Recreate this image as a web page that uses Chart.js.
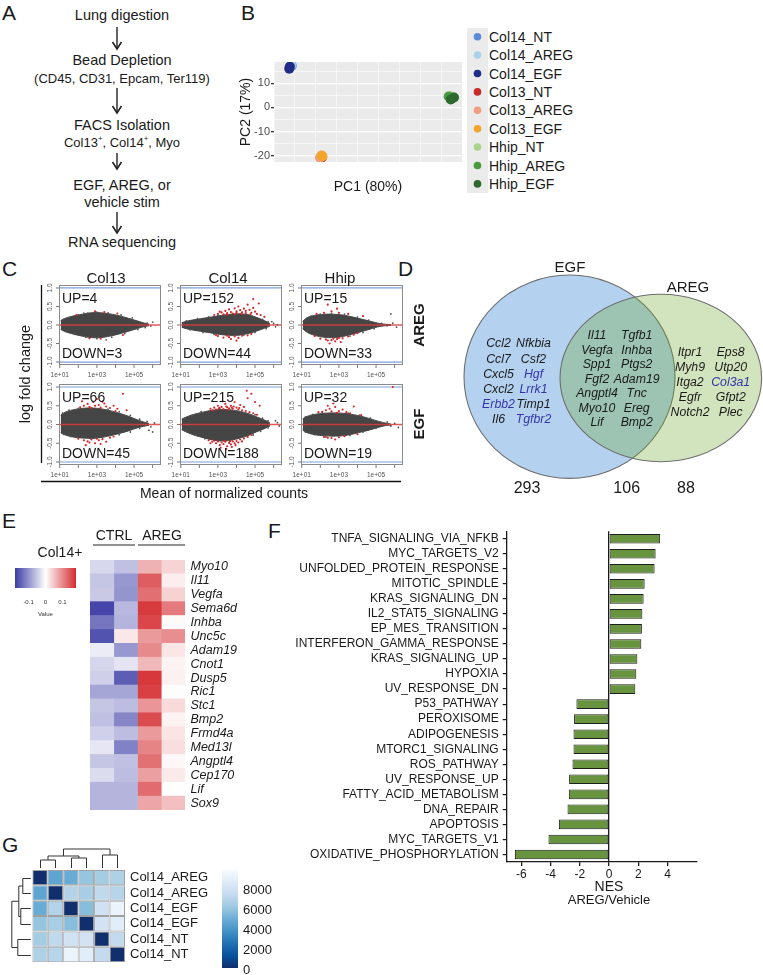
<!DOCTYPE html>
<html><head><meta charset="utf-8">
<script src="https://cdn.jsdelivr.net/npm/chart.js@4.4.1/dist/chart.umd.min.js"></script>
<style>
html,body{margin:0;padding:0;background:#fff}
body{width:763px;height:975px;position:relative;overflow:hidden;font-family:"Liberation Sans",Arial,Helvetica,sans-serif;color:#1a1a1a}
.t{position:absolute;white-space:nowrap;line-height:1}
.t sup{font-size:0.6em;position:relative;top:-0.1em;vertical-align:top}
canvas{position:absolute}
svg{position:absolute;left:0;top:0}
</style></head><body>
<script>
// ================= DATA =================
// Panel A
const flowSteps = [
  ['Lung digestion'],
  ['Bead Depletion', '(CD45, CD31, Epcam, Ter119)'],
  ['FACS Isolation', 'Col13<sup>+</sup>, Col14<sup>+</sup>, Myo'],
  ['EGF, AREG, or', 'vehicle stim'],
  ['RNA sequencing']
];
// Panel B (PCA)
const pcaGroups = ['Col14_NT','Col14_AREG','Col14_EGF','Col13_NT','Col13_AREG','Col13_EGF','Hhip_NT','Hhip_AREG','Hhip_EGF'];
const pcaPC1 = [[-29.5,-30.2],[-29.8,-30.6],[-30.7,-30.4],[-15.0,-15.6],[-16.0,-15.3],[-15.2,-14.8],[46.5,47.5],[45.6,47.0],[48.2,46.6]];
const pcaPC2 = [[17.2,16.8],[17.4,16.5],[16.0,16.9],[-20.6,-21.0],[-20.8,-20.3],[-19.9,-20.2],[4.6,4.2],[4.5,3.6],[4.1,3.3]];
const pcaMajor = [-20,0,20,40];
// Panel C (MA plots)
const maConditions = ['AREG','EGF'];
const maCellTypes = ['Col13','Col14','Hhip'];
const maUpCounts = [[4,152,15],[66,215,32]];
const maDownCounts = [[3,44,33],[45,188,19]];
const maX = [1.05,1.3,1.7,2.2,2.7,3.2,3.7,4.2,4.7,5.1,5.5,5.8];
const maUpperAREG = [
  [0.12,0.18,0.24,0.29,0.33,0.33,0.30,0.25,0.18,0.12,0.06,0.02],
  [0.06,0.10,0.14,0.18,0.22,0.26,0.29,0.30,0.27,0.20,0.12,0.04],
  [0.10,0.20,0.26,0.29,0.29,0.27,0.22,0.16,0.10,0.05,0.02,0.01]];
const maLowerAREG = [
  [-0.12,-0.18,-0.24,-0.30,-0.34,-0.34,-0.30,-0.24,-0.17,-0.11,-0.05,-0.02],
  [-0.06,-0.10,-0.14,-0.18,-0.22,-0.26,-0.28,-0.27,-0.22,-0.16,-0.09,-0.03],
  [-0.10,-0.20,-0.28,-0.33,-0.34,-0.31,-0.25,-0.18,-0.11,-0.05,-0.02,-0.01]];
const maUpperEGF = [
  [0.25,0.33,0.39,0.43,0.44,0.42,0.37,0.30,0.22,0.14,0.07,0.03],
  [0.14,0.20,0.27,0.33,0.38,0.40,0.39,0.35,0.28,0.20,0.12,0.05],
  [0.15,0.22,0.27,0.30,0.31,0.30,0.27,0.22,0.15,0.09,0.04,0.01]];
const maLowerEGF = [
  [-0.22,-0.28,-0.33,-0.36,-0.37,-0.35,-0.30,-0.24,-0.17,-0.10,-0.05,-0.02],
  [-0.14,-0.20,-0.28,-0.35,-0.41,-0.44,-0.42,-0.36,-0.28,-0.19,-0.11,-0.04],
  [-0.15,-0.22,-0.27,-0.30,-0.31,-0.30,-0.26,-0.20,-0.14,-0.08,-0.03,-0.01]];
const maRedAREG = [
  [[1.9,0.27],[2.9,0.37],[3.4,0.35],[4.1,0.31],[2.6,-0.36],[3.2,-0.37],[4.4,-0.27]],
  [[3.0,0.3],[3.2,0.34],[3.3,0.29],[3.4,0.38],[3.5,0.32],[3.6,0.42],[3.7,0.35],[3.8,0.31],[3.9,0.45],[4.0,0.37],[4.0,0.33],[4.1,0.5],[4.2,0.4],[4.3,0.34],[4.4,0.44],[4.5,0.38],[4.5,0.32],[4.6,0.55],[4.7,0.41],[4.8,0.33],[4.9,0.46],[5.0,0.36],[5.1,0.3],[5.2,0.58],[5.3,0.27],[5.5,0.22],[3.1,0.36],[3.5,0.27],[4.25,0.3],[4.75,0.29],[2.8,0.27],[3.95,0.29],[4.9,0.7],
   [3.0,-0.3],[3.3,-0.34],[3.5,-0.29],[3.7,-0.38],[3.9,-0.31],[4.1,-0.35],[4.3,-0.29],[4.6,-0.28],[3.6,-0.33],[4.0,-0.42],[4.8,-0.24],[2.9,-0.27]],
  [[1.8,0.3],[2.2,0.33],[2.6,0.37],[2.9,0.44],[3.0,0.33],[3.5,0.3],[4.3,0.24],[2.4,0.55],
   [1.7,-0.3],[2.0,-0.37],[2.3,-0.39],[2.4,-0.42],[2.6,-0.41],[2.8,-0.44],[2.9,-0.38],[3.0,-0.35],[3.2,-0.36],[3.5,-0.31],[3.8,-0.26],[4.0,-0.22],[2.5,-0.5],[2.7,-0.37],[3.1,-0.46]]];
const maRedEGF = [
  [[2.1,0.46],[2.3,0.5],[2.5,0.55],[2.6,0.47],[2.8,0.6],[2.9,0.5],[3.1,0.52],[3.2,0.45],[3.4,0.56],[3.5,0.48],[3.7,0.44],[3.9,0.5],[4.1,0.42],[2.2,0.62],[3.0,0.68],[4.4,0.82],[4.6,0.38],[2.7,0.44],[3.3,0.61],[4.0,0.36],
   [2.0,-0.38],[2.3,-0.42],[2.5,-0.45],[2.7,-0.4],[2.9,-0.5],[3.1,-0.42],[3.3,-0.39],[3.5,-0.46],[3.7,-0.35],[2.4,-0.55],[3.0,-0.38],[3.9,-0.32],[2.6,-0.48],[3.2,-0.52]],
  [[2.6,0.42],[2.8,0.45],[2.9,0.4],[3.0,0.5],[3.1,0.44],[3.2,0.47],[3.3,0.41],[3.4,0.55],[3.5,0.46],[3.6,0.43],[3.7,0.5],[3.8,0.42],[3.9,0.6],[4.0,0.45],[4.1,0.4],[4.2,0.52],[4.3,0.38],[4.4,0.47],[4.5,0.36],[4.6,0.7],[4.7,0.33],[4.8,0.82],[4.9,0.3],[5.0,0.6],[5.1,0.26],[3.25,0.62],[3.55,0.39],[3.85,0.48],[4.15,0.44],[2.7,0.38],[4.55,0.9],[5.25,0.5],[3.05,0.43],[3.45,0.48],[3.75,0.45],
   [2.5,-0.42],[2.7,-0.46],[2.9,-0.5],[3.0,-0.45],[3.1,-0.55],[3.2,-0.48],[3.3,-0.52],[3.4,-0.46],[3.5,-0.58],[3.6,-0.49],[3.7,-0.53],[3.8,-0.45],[3.9,-0.5],[4.0,-0.44],[4.1,-0.48],[4.2,-0.4],[4.3,-0.45],[4.4,-0.37],[4.6,-0.33],[4.8,-0.28],[3.15,-0.62],[3.45,-0.65],[3.75,-0.6],[2.8,-0.43],[3.35,-0.44],[3.65,-0.45],[3.95,-0.55],[2.6,-0.5]],
  [[2.1,0.34],[2.3,0.38],[2.5,0.42],[2.6,0.35],[2.8,0.47],[3.0,0.36],[3.2,0.4],[2.4,0.5],[3.4,0.33],[2.7,0.56],[1.9,0.33],[3.6,0.3],[2.9,0.31],[4.2,0.25],[3.8,0.48],[5.9,1.0],
   [2.2,-0.33],[2.6,-0.36],[3.0,-0.34],[2.8,-0.4],[3.3,-0.31],[2.4,-0.35],[4.0,-0.26]]];
const maGreyAREG = [
  [[5.7,0.05],[5.9,-0.03],[6.0,0.08],[5.6,-0.07],[3.5,-0.4],[2.3,0.32],[1.2,0.15],[1.5,0.2],[2.0,0.27],[2.5,0.32],[3.0,0.35],[3.6,0.33],[4.3,0.27],[4.9,0.19],[1.3,-0.17],[1.8,-0.25],[2.4,-0.33],[3.0,-0.37],[3.8,-0.33],[4.5,-0.23],[5.2,-0.12]],
  [[6.0,0.04],[6.1,-0.05],[5.9,0.09],[6.2,0.01],[1.3,0.11],[1.9,0.17],[2.5,0.22],[3.0,0.26],[3.5,0.3],[5.4,0.15],[5.7,0.09],[1.5,-0.13],[2.2,-0.2],[2.8,-0.25],[4.4,-0.27],[5.0,-0.2],[5.6,-0.1]],
  [[5.3,0.04],[5.6,-0.02],[5.9,0.05],[6.1,-0.06],[5.8,0.3],[1.2,0.14],[1.5,0.24],[2.0,0.29],[2.6,0.31],[3.3,0.29],[4.0,0.21],[4.6,0.13],[1.3,-0.16],[1.7,-0.27],[3.6,-0.3],[4.3,-0.2],[4.9,-0.1]]];
const maGreyEGF = [
  [[5.7,0.08],[5.9,-0.06],[6.1,0.04],[6.0,-0.2],[5.8,-0.15],[1.15,0.3],[1.5,0.38],[2.0,0.43],[3.6,0.41],[4.2,0.34],[4.8,0.24],[5.3,0.14],[1.2,-0.26],[1.6,-0.32],[4.2,-0.27],[4.8,-0.2],[5.3,-0.1]],
  [[6.2,0.05],[6.3,-0.04],[6.1,0.1],[1.2,0.17],[1.6,0.24],[2.1,0.34],[5.0,0.26],[5.4,0.17],[5.7,0.1],[1.3,-0.18],[1.8,-0.26],[2.3,-0.38],[4.9,-0.28],[5.3,-0.18],[5.7,-0.09]],
  [[5.6,0.07],[5.8,-0.04],[6.0,0.03],[6.2,-0.08],[1.2,0.2],[1.6,0.27],[2.1,0.32],[3.5,0.3],[4.1,0.25],[4.7,0.17],[1.2,-0.2],[1.7,-0.27],[2.3,-0.33],[3.6,-0.29],[4.3,-0.2],[5.0,-0.1]]];
const maXLabels = [1,3,5];
const maXTickMarks = [1,2,3,4,5,6];
const maYTicks = [-1,-0.5,0,0.5,1];
// Panel D (Venn)
const egfOnlyGenes = [['Ccl2','Nfkbia'],['Ccl7','Csf2'],['Cxcl5','Hgf'],['Cxcl2','Lrrk1'],['Erbb2','Timp1'],['Il6','Tgfbr2']];
const sharedGenes = [['Il11','Tgfb1'],['Vegfa','Inhba'],['Spp1','Ptgs2'],['Fgf2','Adam19'],['Angptl4','Tnc'],['Myo10','Ereg'],['Lif','Bmp2']];
const aregOnlyGenes = [['Itpr1','Eps8'],['Myh9','Utp20'],['Itga2','Col3a1'],['Egfr','Gfpt2'],['Notch2','Plec']];
const highlightedGenes = ['Hgf','Lrrk1','Erbb2','Tgfbr2','Col3a1'];
const vennSetNames = ['EGF','AREG'];
const vennCounts = [293,106,88];
// Panel E (heatmap)
const heatGenes = ['Myo10','Il11','Vegfa','Sema6d','Inhba','Unc5c','Adam19','Cnot1','Dusp5','Ric1','Stc1','Bmp2','Frmd4a','Med13l','Angptl4','Cep170','Lif','Sox9'];
const heatGroups = ['CTRL','AREG'];
const heatValues = [
  [-0.037,-0.058,0.065,0.037],
  [-0.054,-0.095,0.137,0.014],
  [-0.050,-0.098,0.122,0.038],
  [-0.171,-0.065,0.166,0.112],
  [-0.127,-0.069,0.156,0.004],
  [-0.160,0.020,0.085,0.096],
  [-0.018,-0.095,0.099,0.021],
  [-0.039,-0.025,0.060,0.010],
  [-0.044,-0.150,0.168,0.012],
  [-0.083,-0.083,0.161,-0.002],
  [-0.054,-0.061,0.089,0.031],
  [-0.058,-0.112,0.151,0.010],
  [-0.043,-0.061,0.085,0.023],
  [-0.023,-0.116,0.105,0.028],
  [-0.054,-0.058,0.120,0.007],
  [-0.032,-0.061,0.081,0.018],
  [-0.069,-0.069,0.125,-0.001],
  [-0.069,-0.069,0.076,0.053]];
const heatKeyTicks = [-0.1,0,0.1];
// Panel F (GSEA)
const gseaSets = ['TNFA_SIGNALING_VIA_NFKB','MYC_TARGETS_V2','UNFOLDED_PROTEIN_RESPONSE','MITOTIC_SPINDLE','KRAS_SIGNALING_DN','IL2_STAT5_SIGNALING','EP_MES_TRANSITION','INTERFERON_GAMMA_RESPONSE','KRAS_SIGNALING_UP','HYPOXIA','UV_RESPONSE_DN','P53_PATHWAY','PEROXISOME','ADIPOGENESIS','MTORC1_SIGNALING','ROS_PATHWAY','UV_RESPONSE_UP','FATTY_ACID_METABOLISM','DNA_REPAIR','APOPTOSIS','MYC_TARGETS_V1','OXIDATIVE_PHOSPHORYLATION'];
const gseaNES = [3.50,3.19,3.12,2.44,2.37,2.28,2.25,2.21,1.94,1.87,1.80,-2.23,-2.39,-2.43,-2.43,-2.50,-2.73,-2.75,-2.84,-3.43,-4.14,-6.44];
const nesTicks = [-6,-4,-2,0,2,4];
// Panel G (sample distance heatmap)
const simSamples = ['Col14_AREG','Col14_AREG','Col14_EGF','Col14_EGF','Col14_NT','Col14_NT'];
const simMatrix = [
  [0,4500,4800,5900,6300,6600],
  [4500,0,6800,6400,7200,6900],
  [4800,6800,0,5600,7800,9200],
  [5900,6400,5600,0,8000,8700],
  [6300,7200,7800,8000,0,7300],
  [6600,6900,9200,8700,7300,0]];
const simKeyTicks = [0,2000,4000,6000,8000];
const dendroMerge = [[-1,-2],[-3,-4],[1,2],[-5,-6],[3,4]];
const dendroHeight = [8,10,12,13,19];

// ================= STYLE / LAYOUT =================
const FONT = '"Liberation Sans", Arial, Helvetica, sans-serif';
Chart.defaults.font.family = FONT;
Chart.defaults.color = '#1a1a1a';
Chart.defaults.animation = false;
Chart.defaults.responsive = false;
Chart.defaults.plugins.legend.display = false;
Chart.defaults.plugins.tooltip.enabled = false;

const pcaColors = ['#5b8bd6','#a9d3ea','#1f2d86','#c72a27','#ee9f80','#f1a52c','#a8d48d','#4c9a40','#2d6a2d'];

function T(html, x, y, o) {
  o = o || {};
  const d = document.createElement('div');
  d.className = 't';
  d.innerHTML = html;
  d.style.left = x + 'px'; d.style.top = y + 'px';
  d.style.fontSize = (o.size || 13) + 'px';
  if (o.color) d.style.color = o.color;
  if (o.italic) d.style.fontStyle = 'italic';
  if (o.bold) d.style.fontWeight = 'bold';
  const ax = o.a === 'l' ? '0' : o.a === 'r' ? '-100%' : '-50%';
  d.style.transform = 'translate(' + ax + ',-50%)' + (o.rot ? ' rotate(' + o.rot + 'deg)' : '');
  document.body.appendChild(d);
  return d;
}
function mkCanvas(x, y, w, h) {
  const c = document.createElement('canvas');
  c.width = w; c.height = h;
  c.style.left = x + 'px'; c.style.top = y + 'px';
  c.style.width = w + 'px'; c.style.height = h + 'px';
  document.body.appendChild(c);
  return c;
}
function hex(h){return [parseInt(h.substr(1,2),16),parseInt(h.substr(3,2),16),parseInt(h.substr(5,2),16)];}
function mix(a,b,f){return 'rgb('+a.map((v,i)=>Math.round(v+(b[i]-v)*f)).join(',')+')';}

// ---------- SVG decorations ----------
const NS = 'http://www.w3.org/2000/svg';
const svg = document.createElementNS(NS,'svg');
svg.setAttribute('width',763); svg.setAttribute('height',975);
document.body.appendChild(svg);
function S(tag, attrs){const e=document.createElementNS(NS,tag);for(const k in attrs)e.setAttribute(k,attrs[k]);svg.appendChild(e);return e;}

// ---------- Panel letters ----------
[['A',2,12],['B',241,12],['C',2,268],['D',398,268],['E',2,520],['F',268,530],['G',2,844]].forEach(p=>T(p[0],p[1],p[2],{size:21,a:'l'}));

// ---------- Panel A ----------
const flowY = [[15],[60,77.7],[125,141.7],[185,201.7],[241.7]];
const flowSize = [[14.5],[14.5,13],[14.5,13],[14.5,14.5],[14.5]];
flowSteps.forEach((s,i)=>s.forEach((line,k)=>T(line,122,flowY[i][k],{size:flowSize[i][k]})));
[[27,49],[88,113],[153,169],[212,233]].forEach(a=>{
  S('line',{x1:117,y1:a[0],x2:117,y2:a[1],stroke:'#222','stroke-width':1.4});
  S('polyline',{points:(112.5)+','+(a[1]-7)+' 117,'+a[1]+' '+(121.5)+','+(a[1]-7),fill:'none',stroke:'#222','stroke-width':1.6});
});

// ---------- Panel B ----------
const pcaBg = {id:'pcaBg', beforeDraw(chart){const a=chart.chartArea,c=chart.ctx;c.save();c.fillStyle='#ebebeb';c.fillRect(a.left,a.top,a.right-a.left,a.bottom-a.top);c.restore();}};
new Chart(mkCanvas(238,50,229,150), {
  type:'scatter',
  data:{datasets: pcaGroups.map((g,i)=>({label:g, data:pcaPC1[i].map((x,k)=>({x:x,y:pcaPC2[i][k]})), backgroundColor:pcaColors[i], borderWidth:0, pointRadius:5, order:pcaGroups.length-i}))},
  options:{devicePixelRatio:1, layout:{padding:{top:12,right:4,left:0,bottom:0}},
    scales:{
      x:{min:-38,max:52, afterFit:s=>{s.height=38;},
        ticks:{stepSize:10,includeBounds:false,autoSkip:false,maxRotation:0,color:'#4d4d4d',font:{size:11},padding:1,callback:v=>pcaMajor.includes(v)?String(v):''},
        grid:{color:'#ffffff',lineWidth:c=>(c.tick&&c.tick.value%20===0)?1.3:0.55,tickColor:c=>(c.tick&&c.tick.value%20===0)?'#333':'rgba(0,0,0,0)',tickLength:3},
        border:{display:false},
        title:{display:true,text:'PC1 (80%)',font:{size:14},color:'#1a1a1a',padding:{top:1}}},
      y:{min:-22.6,max:18.8, afterFit:s=>{s.width=36;},
        ticks:{stepSize:5,includeBounds:false,autoSkip:false,color:'#4d4d4d',font:{size:11},padding:1,callback:v=>(v%10===0)?String(v):''},
        grid:{color:'#ffffff',lineWidth:c=>(c.tick&&c.tick.value%10===0)?1.3:0.55,tickColor:c=>(c.tick&&c.tick.value%10===0)?'#333':'rgba(0,0,0,0)',tickLength:3},
        border:{display:false},
        title:{display:true,text:'PC2 (17%)',font:{size:14},color:'#1a1a1a',padding:{top:0,bottom:2}}}
    }},
  plugins:[pcaBg]
});
const lgTop = 27.5, lgStep = 18.4;
const strip = document.createElement('div');
Object.assign(strip.style,{position:'absolute',left:'467px',top:lgTop+'px',width:'21px',height:(lgStep*pcaGroups.length)+'px',background:'#ebebeb'});
document.body.appendChild(strip);
pcaGroups.forEach((g,i)=>{
  const y = lgTop + lgStep*(i+0.5);
  S('circle',{cx:477.5,cy:y,r:3.8,fill:pcaColors[i]});
  T(g,489,y,{size:14,a:'l'});
});
svg.parentNode.appendChild(svg);

// ---------- Panel C ----------
const maBoxX = [[59,162],[180,283],[301,404]];
const maBoxY = [[284,365],[383,465]];
const maAxes = {id:'maAxes', afterDraw(chart){
  const c=chart.ctx,a=chart.chartArea,x=chart.scales.x,y=chart.scales.y;
  c.save();
  c.strokeStyle='#8a8a8a';c.lineWidth=1;
  c.strokeRect(a.left+0.5,a.top+0.5,a.right-a.left-1,a.bottom-a.top-1);
  c.strokeStyle='#777';c.fillStyle='#555';c.font='6.5px '+FONT;c.textAlign='center';c.textBaseline='middle';
  maYTicks.forEach(v=>{const py=y.getPixelForValue(v);c.beginPath();c.moveTo(a.left-3,py);c.lineTo(a.left,py);c.stroke();
    c.save();c.translate(a.left-9,py);c.rotate(-Math.PI/2);c.fillText(v.toFixed(1),0,0);c.restore();});
  maXTickMarks.forEach(v=>{const px=x.getPixelForValue(v);c.beginPath();c.moveTo(px,a.bottom);c.lineTo(px,a.bottom+3);c.stroke();});
  maXLabels.forEach(v=>c.fillText('1e+0'+v,x.getPixelForValue(v),a.bottom+10));
  c.restore();
}};
function pts(arr){return arr.map(p=>({x:p[0],y:p[1]}));}
maConditions.forEach((cond,r)=>{
  maCellTypes.forEach((cell,ci)=>{
    const L=maBoxX[ci][0],R=maBoxX[ci][1],Tp=maBoxY[r][0],B=maBoxY[r][1];
    const up=(r===0?maUpperAREG:maUpperEGF)[ci], lo=(r===0?maLowerAREG:maLowerEGF)[ci];
    const red=(r===0?maRedAREG:maRedEGF)[ci], grey=(r===0?maGreyAREG:maGreyEGF)[ci];
    const xmin=0.96,xmax=6.45;
    new Chart(mkCanvas(L-24,Tp-3,R-L+27,B-Tp+20),{
      type:'scatter',
      data:{datasets:[
        {data:pts(red),backgroundColor:'#d62628',borderWidth:0,pointRadius:1.1,order:0},
        {data:pts(grey),backgroundColor:'#555555',borderWidth:0,pointRadius:0.9,order:1},
        {type:'line',data:[{x:xmin,y:0},{x:xmax,y:0}],borderColor:'rgba(222,60,60,0.85)',borderWidth:1.3,pointRadius:0,order:2},
        {type:'line',data:[{x:xmin,y:1},{x:xmax,y:1}],borderColor:'#7ba2dc',borderWidth:1.2,pointRadius:0,order:2},
        {type:'line',data:[{x:xmin,y:-1},{x:xmax,y:-1}],borderColor:'#7ba2dc',borderWidth:1.2,pointRadius:0,order:2},
        {type:'line',data:maX.map((v,i)=>({x:v,y:up[i]})),borderColor:'#454545',backgroundColor:'#454545',borderWidth:1,pointRadius:0,tension:0.4,fill:'+1',order:3},
        {type:'line',data:maX.map((v,i)=>({x:v,y:lo[i]})),borderColor:'#454545',borderWidth:1,pointRadius:0,tension:0.4,fill:false,order:4}
      ]},
      options:{devicePixelRatio:1,layout:{padding:{left:24,top:3,right:3,bottom:17}},
        scales:{x:{type:'linear',display:false,min:xmin,max:xmax},y:{type:'linear',display:false,min:-1.08,max:1.08}}},
      plugins:[maAxes]
    });
    T('UP='+maUpCounts[r][ci],L+3,Tp+13.5,{size:14,a:'l'});
    T('DOWN='+maDownCounts[r][ci],L+3,B-12,{size:14,a:'l'});
  });
  T(cond,417.5,(maBoxY[r][0]+maBoxY[r][1])/2,{size:15,bold:true,rot:-90});
});
[106,228,340].forEach((x,i)=>T(maCellTypes[i],x,277,{size:15}));
S('line',{x1:41.5,y1:285,x2:41.5,y2:463,stroke:'#111','stroke-width':1.3});
S('line',{x1:41,y1:481.5,x2:401,y2:481.5,stroke:'#111','stroke-width':1.3});
T('log fold change',25,374,{size:14.5,rot:-90});
T('Mean of normalized counts',224,493,{size:14});

// ---------- Panel D (Venn) ----------
S('ellipse',{cx:569.5,cy:376.7,rx:105.5,ry:101.7,fill:'#b4d2f0',stroke:'#6e6e6e','stroke-width':1.1});
S('ellipse',{cx:660.8,cy:378,rx:100.8,ry:83.7,fill:'rgba(105,165,35,0.3)',stroke:'#6e6e6e','stroke-width':1.1});
T(vennSetNames[0],570,266,{size:15});
T(vennSetNames[1],688,286,{size:15});
function geneBlock(list,cx1,cx2,y0,dy){
  list.forEach((row,i)=>row.forEach((g,k)=>T(g,k===0?cx1:cx2,y0+dy*i,{size:12.3,italic:true,color:highlightedGenes.includes(g)?'#3434a8':'#1a1a1a'})));
}
geneBlock(egfOnlyGenes,498.5,533.5,343.3,15.2);
geneBlock(sharedGenes,597,636.7,335,14.55);
geneBlock(aregOnlyGenes,690,730.7,351.7,15.15);
[527,626.7,686].forEach((x,i)=>T(String(vennCounts[i]),x,488,{size:16}));

// ---------- Panel E (heatmap) ----------
const blueEnd=[60,60,165], redEnd=[212,42,46], white=[255,255,255];
const heatLim = 0.18;
function divColor(v){const t=Math.max(-1,Math.min(1,v/heatLim));return t<0?mix(white,blueEnd,-t):mix(white,redEnd,t);}
new Chart(mkCanvas(90,547,160,276),{
  type:'bar',
  data:{labels:heatGenes,datasets:[0,1,2,3].map(j=>({data:heatGenes.map(()=>[j,j+1]),backgroundColor:heatValues.map(r=>divColor(r[j])),grouped:false,barPercentage:1,categoryPercentage:1,borderWidth:0}))},
  options:{devicePixelRatio:1,indexAxis:'y',layout:{padding:0},
    scales:{x:{display:false,min:0,max:4},
      y:{position:'right',afterFit:s=>{s.width=65;},grid:{display:false,drawTicks:false},border:{display:false},
        ticks:{autoSkip:false,padding:5.5,color:'#1a1a1a',font:{size:12.5,style:'italic'}}}}}
});
T(heatGroups[0],114,535,{size:14});
T(heatGroups[1],162,535,{size:14});
S('line',{x1:93,y1:545,x2:135,y2:545,stroke:'#222','stroke-width':1});
S('line',{x1:138,y1:545,x2:185,y2:545,stroke:'#222','stroke-width':1});
T('Col14+',60,552,{size:14});
const keyE = document.createElement('div');
Object.assign(keyE.style,{position:'absolute',left:'15px',top:'568px',width:'61px',height:'20px',background:'linear-gradient(to right, rgb(60,60,165), #ffffff, rgb(212,42,46))'});
document.body.appendChild(keyE);
heatKeyTicks.forEach(v=>T(String(v),45.5+v/heatLim*30.5,602,{size:6,color:'#333'}));
T('Value',45.5,614,{size:6,color:'#333'});

// ---------- Panel F (GSEA bars) ----------
new Chart(mkCanvas(250,520,513,360),{
  type:'bar',
  data:{labels:gseaSets,datasets:[{data:gseaNES,backgroundColor:'#68943f',borderColor:'#1e1e1e',borderWidth:1,borderSkipped:false,barPercentage:0.64,categoryPercentage:1}]},
  options:{devicePixelRatio:1,indexAxis:'y',layout:{padding:{top:11,right:66.3,left:0,bottom:0}},
    scales:{
      x:{min:-7,max:6,afterFit:s=>{s.height=18;},afterBuildTicks:s=>{s.ticks=nesTicks.map(v=>({value:v}));},
        ticks:{color:'#1a1a1a',font:{size:12},padding:1,maxRotation:0,autoSkip:false},
        grid:{drawOnChartArea:true,color:c=>(c.tick&&c.tick.value===0)?'#1a1a1a':'rgba(0,0,0,0)',tickColor:'#1a1a1a',tickLength:4,lineWidth:1.3},
        border:{display:true,color:'#1a1a1a',width:1.3}},
      y:{afterFit:s=>{s.width=256.7;},
        ticks:{color:'#1a1a1a',font:{size:12},padding:4,autoSkip:false},
        grid:{drawOnChartArea:false,offset:false,tickLength:4,color:'#1a1a1a',tickColor:'#1a1a1a',lineWidth:1.2},
        border:{display:true,color:'#1a1a1a',width:1.3}}
    }}
});
T('NES',609,886,{size:14});
T('AREG/Vehicle',609,899,{size:13});

// ---------- Panel G ----------
const bluesPal = ['#102f6c','#08519C','#2171B5','#4292C6','#6BAED6','#9ECAE1','#C6DBEF','#DEEBF7','#F7FBFF'];
const simScaleMax = 9800;
function bluesColor(v){const t=Math.max(0,Math.min(1,v/simScaleMax))*8;const i=Math.min(7,Math.floor(t));return mix(hex(bluesPal[i]),hex(bluesPal[i+1]),t-i);}
function drawTree(c,leafPos,mapH,vertical){
  const pos=[];
  dendroMerge.forEach((m,k)=>{
    const h=dendroHeight[k];
    const ch=m.map(q=>q<0?{p:leafPos(-q-1),h:0}:{p:pos[q-1],h:dendroHeight[q-1]});
    pos[k]=(ch[0].p+ch[1].p)/2;
    c.beginPath();
    if(vertical){c.moveTo(ch[0].p,mapH(ch[0].h));c.lineTo(ch[0].p,mapH(h));c.lineTo(ch[1].p,mapH(h));c.lineTo(ch[1].p,mapH(ch[1].h));}
    else{c.moveTo(mapH(ch[0].h),ch[0].p);c.lineTo(mapH(h),ch[0].p);c.lineTo(mapH(h),ch[1].p);c.lineTo(mapH(ch[1].h),ch[1].p);}
    c.stroke();
  });
}
const dendroPlugin = {id:'dendro', afterDraw(chart){
  const c=chart.ctx,a=chart.chartArea,x=chart.scales.x,y=chart.scales.y;
  c.save();c.strokeStyle='#333';c.lineWidth=1;
  drawTree(c,i=>Math.round(x.getPixelForValue(i+0.5))+0.5,h=>a.top-2-h,true);
  drawTree(c,i=>Math.round(y.getPixelForValue(i))+0.5,h=>a.left-1.5-h,false);
  c.restore();
}};
new Chart(mkCanvas(0,840,222,135),{
  type:'bar',
  data:{labels:simSamples,datasets:simSamples.map((s,j)=>({data:simSamples.map(()=>[j,j+1]),backgroundColor:simMatrix.map(r=>bluesColor(r[j])),grouped:false,barPercentage:1,categoryPercentage:1,borderWidth:1,borderColor:'#a0a0a0',borderSkipped:false,inflateAmount:0}))},
  options:{devicePixelRatio:1,indexAxis:'y',layout:{padding:{left:32.3,top:30,bottom:12,right:0}},
    scales:{x:{display:false,min:0,max:6},
      y:{position:'right',afterFit:s=>{s.width=97;},grid:{display:false,drawTicks:false},border:{display:false},
        ticks:{autoSkip:false,padding:5,color:'#1a1a1a',font:{size:13}}}}},
  plugins:[dendroPlugin]
});
const keyG = document.createElement('div');
Object.assign(keyG.style,{position:'absolute',left:'222px',top:'870px',width:'16px',height:'98px',background:'linear-gradient(to top, '+bluesPal.join(', ')+')'});
document.body.appendChild(keyG);
simKeyTicks.forEach(v=>T(String(v),243,968-v/simScaleMax*98+1,{size:13,a:'l'}));
</script>
</body></html>
